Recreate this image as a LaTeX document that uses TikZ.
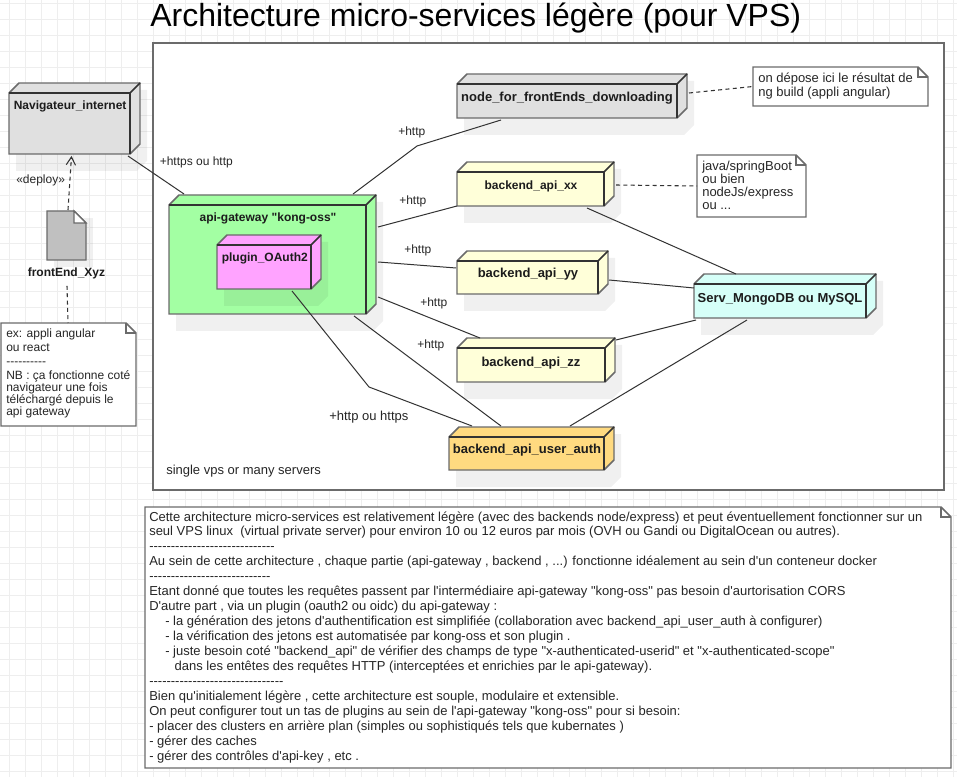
\documentclass[tikz,border=0pt]{standalone}
\usepackage{fontspec}
\setmainfont{Liberation Sans}[Ligatures=TeXOff]
\usetikzlibrary{calc,arrows.meta}
\definecolor{gridc}{HTML}{EEEEEE}
\definecolor{edgeg}{HTML}{6B6B6B}
\definecolor{edged}{HTML}{333333}
\definecolor{fgray}{HTML}{E0E0E0}
\definecolor{fgreen}{HTML}{A3FFA3}
\definecolor{fmag}{HTML}{FFA3FF}
\definecolor{fyel}{HTML}{FFFFD9}
\definecolor{fcyan}{HTML}{D6FFF8}
\definecolor{forange}{HTML}{FFDA80}
\definecolor{ffile}{HTML}{C0C0C0}
\definecolor{txt}{HTML}{262626}
\definecolor{boldtxt}{HTML}{1C1C1C}
\tikzset{
  body/.style={draw=edgeg,line width=1.1pt,line join=miter},
  inner/.style={draw=edged,line width=1.1pt},
  frontbox/.style={inner sep=0pt,outer sep=0pt},
  softshadow/.style={fill=black,fill opacity=0.06},
  cubelabel/.style={font=\fontsize{9}{11}\selectfont\bfseries,text=boldtxt,inner sep=0pt,yshift=-0.75pt},
  cubelabelbig/.style={font=\fontsize{9.75}{11}\selectfont\bfseries,text=boldtxt,inner sep=0pt,yshift=-0.75pt},
  plain/.style={font=\fontsize{9}{11}\selectfont,text=txt,inner sep=0pt,yshift=-0.75pt},
  plainbig/.style={font=\fontsize{9.75}{11}\selectfont,text=txt,inner sep=0pt,yshift=-0.75pt},
  notetext/.style={align=left,anchor=north west,inner sep=0pt,text=txt,yshift=-0.75pt},
  conn/.style={draw=edged,line width=0.75pt},
  dotconn/.style={draw=edged,line width=0.8pt,dash pattern=on 3pt off 2.5pt},
}
% name x1 y1 x2 y2 fill  (front face; depth 10)
\newcommand{\mycube}[6]{%
  \fill[softshadow] (#2+17,#3-3) -- (#4+17,#3-3) -- (#4+17,#5+7) -- (#4+7,#5+17) -- (#2+7,#5+17) -- (#2+7,#5) -- cycle;
  \path[fill=#6,body] (#2,#3) -- (#2+10,#3-10) -- (#4+10,#3-10) -- (#4+10,#5-10) -- (#4,#5) -- (#2,#5) -- cycle;
  \draw[inner] (#2,#3) -- (#4,#3) -- (#4,#5);
  \draw[inner] (#4,#3) -- (#4+10,#3-10);
  \node[frontbox,minimum width={(#4-#2)*0.75pt},minimum height={(#5-#3)*0.75pt}] (#1) at ({(#2+#4)/2},{(#3+#5)/2}) {};
}
% name x1 y1 x2 y2 fold
\newcommand{\mynote}[6]{%
  \draw[body,fill=white] (#2,#3) -- (#4-#6,#3) -- (#4,#3+#6) -- (#4,#5) -- (#2,#5) -- cycle;
  \draw[edgeg,line width=1pt] (#4-#6,#3) -- (#4-#6,#3+#6) -- (#4,#3+#6);
  \node[frontbox,minimum width={(#4-#2)*0.75pt},minimum height={(#5-#3)*0.75pt}] (#1) at ({(#2+#4)/2},{(#3+#5)/2}) {};
}
\begin{document}
\begin{tikzpicture}[x=0.75pt,y=-0.75pt]
\useasboundingbox (0,0) rectangle (957,777);
\fill[white] (0,0) rectangle (957,777);
% grid
\foreach \k in {0,...,59} {\draw[gridc,line width=0.75pt] ({9.5+16*\k},0) -- ({9.5+16*\k},777);}
\foreach \k in {0,...,48} {\draw[gridc,line width=0.75pt] (0,{3.5+16*\k}) -- (957,{3.5+16*\k});}
% title
\node[anchor=base west,inner sep=0pt,font=\fontsize{24}{30}\selectfont,text=black] (title) at (150,27) {Architecture micro-services légère (pour VPS)};
% main frame
\draw[edgeg,line width=1.5pt,fill=white] (153,43) rectangle (944,490);
\node[frontbox,minimum width={791*0.75pt},minimum height={447*0.75pt}] (frame) at (548.5,266.5) {};
\node[plainbig,anchor=west] (framelabel) at (166,470) {single vps or many servers};
% cubes
\mycube{nav}{9}{93}{130}{154}{fgray}
\mycube{front}{457}{84}{677}{118}{fgray}
\mycube{xx}{457}{172}{604}{206}{fyel}
\mycube{yy}{457}{261}{598}{294}{fyel}
\mycube{zz}{457}{348}{605}{382}{fyel}
\mycube{auth}{449}{437}{604}{470}{forange}
\mycube{serv}{694}{284}{866}{318}{fcyan}
\mycube{gw}{169}{205}{366}{314}{fgreen}
\mycube{plug}{217}{245}{311}{289}{fmag}
\node[cubelabel,anchor=west] (navL) at (13.5,105) {Navigateur\_internet};
\node[cubelabel] (gwL) at (268,217) {api-gateway "kong-oss"};
\node[cubelabel,anchor=west] (plugL) at (221.5,257) {plugin\_OAuth2};
\node[cubelabelbig] (frontL) at (567,97) {node\_for\_frontEnds\_downloading};
\node[cubelabel] (xxL) at (531,185) {backend\_api\_xx};
\node[cubelabelbig] (yyL) at (528,273) {backend\_api\_yy};
\node[cubelabelbig] (zzL) at (531,362) {backend\_api\_zz};
\node[cubelabelbig] (authL) at (527,449) {backend\_api\_user\_auth};
\node[cubelabelbig] (servL) at (780,298) {Serv\_MongoDB ou MySQL};
% artifact
\fill[softshadow] (54,218) -- (93,218) -- (93,267) -- (54,267) -- cycle;
\draw[body,fill=ffile] (47,211) -- (74,211) -- (86,223) -- (86,260) -- (47,260) -- cycle;
\draw[edgeg,line width=1pt,fill=white] (74,211) -- (74,223) -- (86,223) -- cycle;
\node[frontbox,minimum width={39*0.75pt},minimum height={49*0.75pt}] (file) at (66.5,235.5) {};
\node[cubelabel] (fileL) at (66.5,272) {frontEnd\_Xyz};
% notes
\mynote{n1}{753}{67}{928}{106}{10}
\node[notetext,font=\fontsize{9.75}{9}\selectfont] (n1T) at (758,72) {on dépose ici le résultat de\\ng build (appli angular)};
\mynote{n2}{697}{155}{806}{217}{10}
\node[notetext,font=\fontsize{9.75}{9.75}\selectfont] (n2T) at (702,160) {java/springBoot\\ou bien\\nodeJs/express\\ou ...};
\mynote{n3}{1}{323}{136}{426}{10}
\node[notetext,font=\fontsize{9}{9}\selectfont] (n3T) at (6,328) {ex: appli angular\\[1.5pt]ou react\\[1.5pt]----------\\[1.5pt]NB : ça fonctionne coté\\navigateur une fois\\téléchargé depuis le\\api gateway};
\mynote{n4}{145}{507}{951}{768}{10}
\node[notetext,font=\fontsize{9.75}{11.25}\selectfont] (n4T) at (149,511) {Cette architecture micro-services est relativement légère (avec des backends node/express) et peut éventuellement fonctionner sur un\\[-1.25pt]
seul VPS linux\ \ (virtual private server) pour environ 10 ou 12 euros par mois (OVH ou Gandi ou DigitalOcean ou autres).\\
-----------------------------\\
Au sein de cette architecture , chaque partie (api-gateway , backend , ...) fonctionne idéalement au sein d'un conteneur docker\\
----------------------------\\
Etant donné que toutes les requêtes passent par l'intermédiaire api-gateway "kong-oss" pas besoin d'aurtorisation CORS\\
D'autre part , via un plugin (oauth2 ou oidc) du api-gateway :\\
\hspace*{12pt}- la génération des jetons d'authentification est simplifiée (collaboration avec backend\_api\_user\_auth à configurer)\\
\hspace*{12pt}- la vérification des jetons est automatisée par kong-oss et son plugin .\\
\hspace*{12pt}- juste besoin coté "backend\_api" de vérifier des champs de type "x-authenticated-userid" et "x-authenticated-scope"\\
\hspace*{19pt}dans les entêtes des requêtes HTTP (interceptées et enrichies par le api-gateway).\\
-------------------------------\\
Bien qu'initialement légère , cette architecture est souple, modulaire et extensible.\\
On peut configurer tout un tas de plugins au sein de l'api-gateway "kong-oss" pour si besoin:\\
- placer des clusters en arrière plan (simples ou sophistiqués tels que kubernates )\\
- gérer des caches\\
- gérer des contrôles d'api-key , etc .};
% connectors
\draw[conn] ($(nav.south east)+(-2,2)$) -- ($(gw.north west)+(15,-11)$);
\coordinate (bendfront) at (417,146);
\draw[conn] ($(gw.north east)+(-13,-11)$) -- (bendfront) -- ($(front.south west)+(44,2)$);
\draw[conn] ($(gw.north east)+(12,22)$) -- (xx.south west);
\draw[conn] ($(gw.north east)+(12,57)$) -- ($(yy.south west)+(-1,-26)$);
\draw[conn] ($(gw.south east)+(12,-17)$) -- ($(zz.north west)+(23,-10)$);
\draw[conn] ($(gw.south east)+(-12,2)$) -- ($(auth.north west)+(52,-11)$);
\coordinate (bendauth) at (369,387);
\draw[conn] ($(plug.south west)+(75,2)$) -- (bendauth) -- ($(auth.north west)+(23,-11)$);
\draw[conn] ($(xx.south east)+(-17,2)$) -- ($(serv.north west)+(42,-10)$);
\draw[conn] ($(yy.south east)+(11,-14)$) -- ($(serv.north west)+(0,4)$);
\draw[conn] ($(zz.north east)+(11,-8)$) -- ($(serv.south west)+(2,2)$);
\draw[conn] ($(auth.north east)+(-34,-11)$) -- ($(serv.south west)+(53,2)$);
\draw[dotconn] ($(front.north east)+(12,9)$) -- (n1.west);
\draw[dotconn] ($(xx.north east)+(12,13)$) -- (n2.west);
\draw[dotconn,-{Straight Barb[length=6pt,width=7pt,line width=0.8pt]}] ($(file.north)+(1.5,-1)$) -- ($(nav.south)+(2,2)$);
\draw[dotconn] ($(fileL.south)+(0.5,7)$) -- ($(n3.north)+(-0.5,0)$);
% connector labels
\node[plain,anchor=west] (l0) at (159.5,161.5) {+https ou http};
\node[plain,anchor=west] (l1) at (398,131.5) {+http};
\node[plain,anchor=west] (l2) at (399,200.5) {+http};
\node[plain,anchor=west] (l3) at (404,249.5) {+http};
\node[plain,anchor=west] (l4) at (420,302.5) {+http};
\node[plain,anchor=west] (l5) at (417,344.5) {+http};
\node[plainbig,anchor=west] (l6) at (329,416.5) {+http ou https};
\node[plain,anchor=west] (l7) at (16,179) {«deploy»};
\end{tikzpicture}
\end{document}
